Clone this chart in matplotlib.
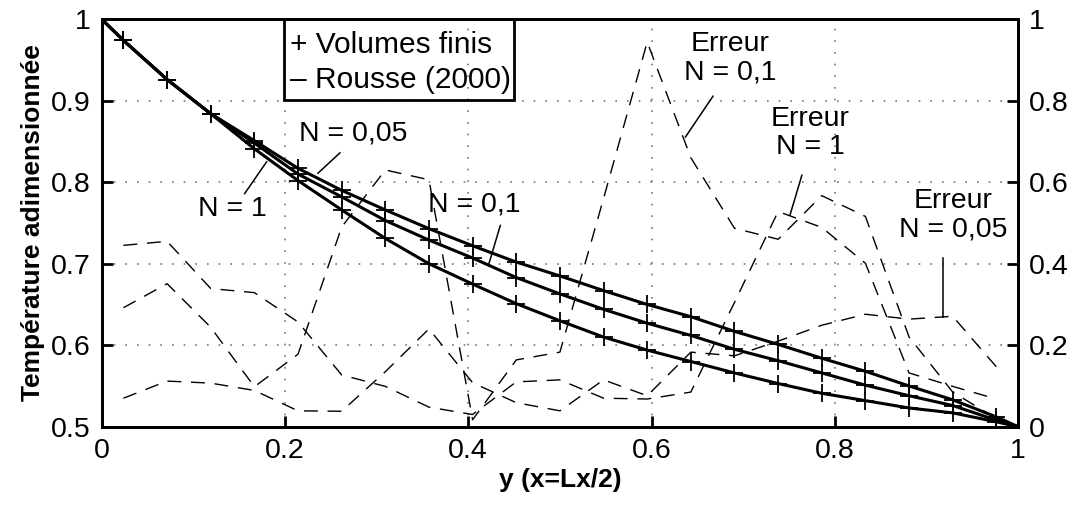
import matplotlib
matplotlib.use('Agg')
import matplotlib.pyplot as plt
from matplotlib.patches import Rectangle
import numpy as np

plt.rcParams['font.family'] = ['Liberation Sans', 'DejaVu Sans']

# 21 control volumes, values read at the cell centres
n_cells = 21
y_vf = [(i + 0.5) / n_cells for i in range(n_cells)]

# temperature, volumes finis (markers)
T_005 = [0.974, 0.926, 0.884, 0.851, 0.817, 0.790, 0.766, 0.743, 0.722, 0.702, 0.685,
         0.667, 0.650, 0.635, 0.617, 0.601, 0.584, 0.568, 0.550, 0.533, 0.512]
T_01 = [0.974, 0.926, 0.884, 0.848, 0.810, 0.782, 0.753, 0.729, 0.707, 0.683, 0.663,
        0.644, 0.627, 0.612, 0.595, 0.581, 0.566, 0.551, 0.538, 0.526, 0.508]
T_1 = [0.974, 0.926, 0.884, 0.841, 0.802, 0.766, 0.731, 0.700, 0.675, 0.651, 0.630,
       0.610, 0.594, 0.580, 0.566, 0.553, 0.541, 0.532, 0.523, 0.517, 0.506]

# Rousse (2000), solid lines: wall values + cell centres
y_rousse = [0.0] + y_vf + [1.0]
R_005 = [1.0] + T_005 + [0.5]
R_01 = [1.0] + T_01 + [0.5]
R_1 = [1.0] + T_1 + [0.5]

# relative error (right axis)
err_005 = [0.070, 0.112, 0.107, 0.089, 0.039, 0.038, 0.135, 0.240, 0.108, 0.059, 0.039,
           0.115, 0.076, 0.183, 0.174, 0.210, 0.249, 0.276, 0.264, 0.271, 0.147]
err_01 = [0.292, 0.351, 0.244, 0.098, 0.178, 0.490, 0.630, 0.606, 0.017, 0.164, 0.183,
          0.560, 0.944, 0.660, 0.487, 0.460, 0.567, 0.516, 0.220, 0.085, 0.020]
err_1 = [0.445, 0.455, 0.339, 0.329, 0.257, 0.127, 0.099, 0.048, 0.030, 0.110, 0.115,
         0.070, 0.068, 0.085, 0.305, 0.528, 0.489, 0.401, 0.132, 0.099, 0.068]

xticks = [0, 0.2, 0.4, 0.6, 0.8, 1]
xticklabels = ['0', '0.2', '0.4', '0.6', '0.8', '1']
yticks = [0.5, 0.6, 0.7, 0.8, 0.9, 1]
yticklabels = ['0.5', '0.6', '0.7', '0.8', '0.9', '1']
y2ticks = [0, 0.2, 0.4, 0.6, 0.8, 1]
y2ticklabels = ['0', '0.2', '0.4', '0.6', '0.8', '1']

fs = 20.5

fig = plt.figure(figsize=(10.72, 5.05), dpi=100)
ax = fig.add_axes([0.0948, 0.155, 0.855, 0.807])
ax2 = ax.twinx()

# solid analytical curves + finite volume markers
for R, T in [(R_005, T_005), (R_01, T_01), (R_1, T_1)]:
    ax.plot(y_rousse, R, '-', color='black', lw=2.2, zorder=3)
    ax.plot(y_vf, T, '+', color='black', ms=13, mew=1.3, zorder=4)

ax.set_xlim(0, 1)
ax.set_ylim(0.5, 1)
ax.set_xticks(xticks)
ax.set_xticklabels(xticklabels)
ax.set_yticks(yticks)
ax.set_yticklabels(yticklabels)
ax.grid(True, color='#777777', linestyle=(0, (1, 6)), lw=1.2)
ax.tick_params(direction='in', length=8, width=2, labelsize=fs, pad=8)

# error curves
for e in [err_005, err_01, err_1]:
    ax2.plot(y_vf, e, color='black', lw=1.0, dashes=(10, 7))
ax2.set_ylim(0, 1)
ax2.set_yticks(y2ticks)
ax2.set_yticklabels(y2ticklabels)
ax2.tick_params(direction='in', length=8, width=2, labelsize=fs, pad=8)

for a in (ax, ax2):
    for s in a.spines.values():
        s.set_linewidth(2)

ax.set_xlabel('y (x=Lx/2)', fontsize=19, fontweight='bold', labelpad=3)
ax.set_ylabel('Température adimensionnée', fontsize=19, fontweight='bold', labelpad=4)

# legend box
ax.add_patch(Rectangle((0.199, 0.801), 0.251, 0.199, transform=ax.transAxes,
                       fill=False, ec='black', lw=2, zorder=6, clip_on=False))
ax.text(0.206, 0.917, '+ Volumes finis', transform=ax.transAxes, fontsize=21.5,
        va='baseline', ha='left', zorder=6)
ax.text(0.206, 0.830, '\u2013 Rousse (2000)', transform=ax.transAxes, fontsize=21.5,
        va='baseline', ha='left', zorder=6)

# labels on temperature curves
lp = dict(arrowstyle='-', color='black', lw=1.1, shrinkA=0, shrinkB=0)
ax.text(0.274, 0.860, 'N = 0,05', fontsize=fs, ha='center', va='center')
ax.plot([0.260, 0.236], [0.836, 0.811], color='black', lw=1.1)
ax.text(0.143, 0.767, 'N = 1', fontsize=fs, ha='center', va='center')
ax.plot([0.156, 0.180], [0.786, 0.825], color='black', lw=1.1)
ax.text(0.407, 0.773, 'N = 0,1', fontsize=fs, ha='center', va='center')
ax.plot([0.435, 0.422], [0.747, 0.698], color='black', lw=1.1)

# labels on error curves
ax2.text(0.686, 0.904, 'Erreur\nN = 0,1', fontsize=fs, ha='center', va='center',
         linespacing=1.1)
ax2.plot([0.667, 0.637], [0.811, 0.711], color='black', lw=1.1)
ax2.text(0.773, 0.720, 'Erreur\nN = 1', fontsize=fs, ha='center', va='center',
         linespacing=1.1)
ax2.plot([0.764, 0.751], [0.617, 0.519], color='black', lw=1.1)
ax2.text(0.929, 0.519, 'Erreur\nN = 0,05', fontsize=fs, ha='center', va='center',
         linespacing=1.1)
ax2.plot([0.918, 0.918], [0.414, 0.270], color='black', lw=1.1)

fig.savefig('out.png', dpi=100)
